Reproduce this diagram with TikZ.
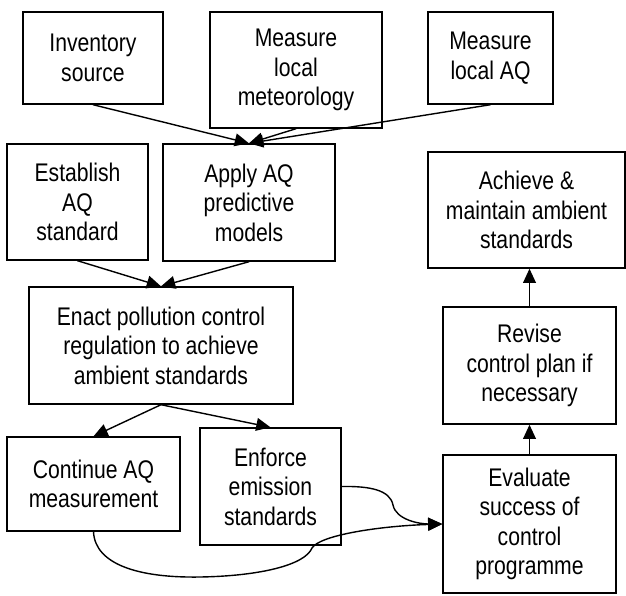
\documentclass[tikz,border=0pt]{standalone}
\usepackage{fontspec}
\setmainfont{Liberation Sans}[FakeStretch = 0.83]
\usetikzlibrary{
    arrows.meta, % Filled triangle tips on the connectors.
}

\begin{document}
\begin{tikzpicture}[%
        x = 1pt,
        y = -1pt,
        line width = 1.4pt,
        line cap = round,
        box/.style = {%
            draw,
            rectangle,
            align = center,
            inner sep = 0pt,
            font = \fontsize{25.5}{29.5}\selectfont
        },
        link/.style = {-{Triangle[length = 0.5cm, width = 0.45cm]}}
    ]

        % Fix the size of the page.
        \useasboundingbox (0, 0) rectangle (626, 595);

        % Boxes along the top.
        \node[box, minimum width = 140pt, minimum height = 92pt] (inv) at (93, 58)
            {Inventory\\source};
        \node[box, minimum width = 172pt, minimum height = 116pt] (met) at (296, 70)
            {Measure\\local\\meteorology};
        \node[box, minimum width = 125pt, minimum height = 92pt] (aq) at (490.5, 58)
            {Measure\\local AQ};

        % Standard and models.
        \node[box, minimum width = 141pt, minimum height = 116pt] (est) at (77.5, 202)
            {Establish\\AQ\\standard};
        \node[box, minimum width = 172pt, minimum height = 117pt] (app) at (249, 202.5)
            {Apply AQ\\predictive\\models};

        % Regulation and what follows it.
        \node[box, minimum width = 264pt, minimum height = 117pt] (enact) at (161, 345.5)
            {Enact pollution control\\regulation to achieve\\ambient standards};
        \node[box, minimum width = 173pt, minimum height = 94pt] (cont) at (93.5, 484)
            {Continue AQ\\measurement};
        \node[box, minimum width = 141pt, minimum height = 117pt] (enf) at (270.5, 486.5)
            {Enforce\\emission\\standards};

        % Right hand column.
        \node[box, minimum width = 197pt, minimum height = 116pt] (ach) at (526.5, 210)
            {Achieve \&\\maintain ambient\\standards};
        \node[box, minimum width = 173pt, minimum height = 117pt] (rev) at (529.5, 365.5)
            {Revise\\control plan if\\necessary};
        \node[box, minimum width = 173pt, minimum height = 138pt] (eva) at (529.5, 524)
            {Evaluate\\success of\\control\\programme};

        % Straight connectors.
        \draw[link] (inv.south) to (app.north);
        \draw[link] (met.south) to (app.north);
        \draw[link] (aq.south) to (app.north);
        \draw[link] (est.south) to (enact.north);
        \draw[link] (app.south) to (enact.north);
        \draw[link] (enact.south) to (cont.north);
        \draw[link] (enact.south) to (enf.north);
        \draw[link] (eva.north) to (rev.south);
        \draw[link] (rev.north) to (rev.north |- ach.south);

        % Curved connectors into the evaluation box.
        \draw[link] (cont.south)
            .. controls (95, 565) and (140, 578) .. (200, 577)
            .. controls (260, 576) and (305, 565) .. (312, 548)
            .. controls (320, 535) and (380, 526) .. (eva.west);
        \draw[link] (enf.east)
            .. controls (370, 486) and (390, 490) .. (393, 505)
            .. controls (396, 520) and (420, 524) .. (eva.west);
    \end{tikzpicture}
\end{document}
